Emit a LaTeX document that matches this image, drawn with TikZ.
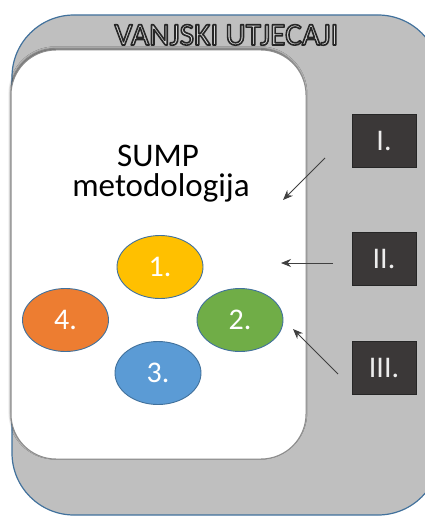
\documentclass[tikz,border=0pt]{standalone}
\usepackage{fontspec}
\setmainfont{Carlito}
\usetikzlibrary{shapes.geometric,arrows.meta,shadows.blur}

\definecolor{frameblue}{HTML}{41719C}
\definecolor{outergray}{HTML}{BFBFBF}
\definecolor{innerline}{HTML}{8C8C8C}
\definecolor{darkbox}{HTML}{3B3838}
\definecolor{stepyellow}{HTML}{FFC000}
\definecolor{stepgreen}{HTML}{70AD47}
\definecolor{stepblue}{HTML}{5B9BD5}
\definecolor{steporange}{HTML}{ED7D31}
\definecolor{arrowgray}{HTML}{404040}

% outlined lettering: fill with the current colour, stroke in dark grey
\newcommand{\outlinedtext}[1]{%
  \special{pdf:code 0.15 0.15 0.15 RG 1.6 w 1 j 2 Tr}#1\special{pdf:code 0 Tr}}

\tikzset{
  stepoval/.style={ellipse, draw=frameblue, line width=0.9pt, minimum width=86pt,
    minimum height=63pt, inner sep=0pt, text=white, font=\fontsize{30}{36}\selectfont},
  factorbox/.style={rectangle, draw=black!85, line width=0.9pt, fill=darkbox,
    minimum width=64pt, minimum height=53pt, inner sep=0pt, text=white!93!black,
    font=\fontsize{30}{36}\selectfont},
  influence/.style={draw=arrowgray, line width=0.9pt, -{Stealth[length=10pt,width=8pt]}},
  bigtext/.style={anchor=base, inner sep=0pt, font=\fontsize{33}{39}\selectfont},
}

\begin{document}
\begin{tikzpicture}[x=1pt, y=-1pt]
  \useasboundingbox (0,0) rectangle (425,516);
  \begin{scope}
    \clip (0,0) rectangle (425,516);
    % outer frame: external influences
    \draw[fill=outergray, draw=frameblue, line width=1.2pt, rounded corners=62pt]
      (12,15) rectangle (440,515);
    % inner panel: the methodology
    \draw[fill=white, draw=innerline, line width=1pt, rounded corners=45pt,
      blur shadow={shadow xshift=-0.8pt, shadow yshift=1.5pt, shadow blur radius=2pt,
        shadow opacity=55}]
      (11,50) rectangle (306,459);
  \end{scope}

  % outlined title
  \node[bigtext, text=white!85!black, font=\fontsize{31.5}{37}\selectfont]
    (title) at (226.5,45) {\outlinedtext{VANJSKI UTJECAJI}};

  % panel caption
  \node[bigtext] (sump) at (158,166) {SUMP};
  \node[bigtext] (metod) at (161,196) {metodologija};

  % the four steps
  \node[stepoval, fill=stepyellow] (s1) at (160,267) {1.};
  \node[stepoval, fill=stepgreen]  (s2) at (240,320) {2.};
  \node[stepoval, fill=stepblue]   (s3) at (158,373) {3.};
  \node[stepoval, fill=steporange] (s4) at (65.5,320) {4.};

  % external factors
  \node[factorbox] (f1) at (384,140.5) {I.};
  \node[factorbox] (f2) at (384,259) {II.};
  \node[factorbox] (f3) at (384,368) {III.};

  % arrow ends
  \coordinate (a1) at (325,158);
  \coordinate (b1) at (283,200);
  \coordinate (a2) at (333,263);
  \coordinate (b2) at (281,263);
  \coordinate (a3) at (338,374);
  \coordinate (b3) at (293,329);
  \draw[influence] (a1) -- (b1);
  \draw[influence] (a2) -- (b2);
  \draw[influence] (a3) -- (b3);
\end{tikzpicture}
\end{document}
